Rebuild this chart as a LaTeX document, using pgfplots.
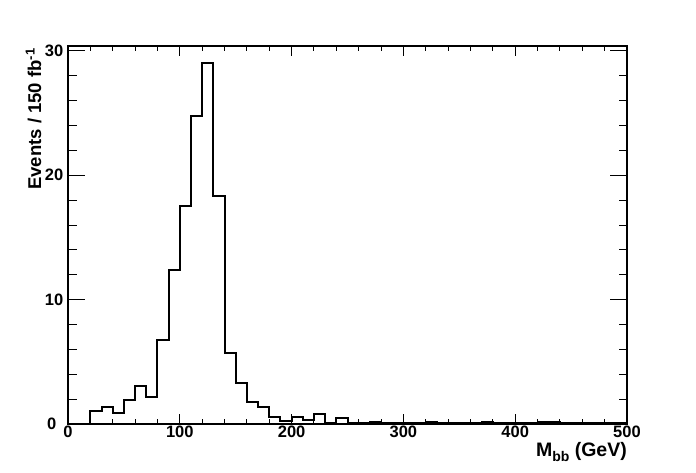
\documentclass[border=0pt]{standalone}
\usepackage{fontspec}
\setmainfont{Liberation Sans}
\usepackage{pgfplots}
\pgfplotsset{compat=1.18}
\pgfplotstableread{
x y
0 0
10 0
20 1.07
30 1.4
40 0.91
50 1.9
60 3.09
70 2.2
80 6.75
90 12.4
100 17.5
110 24.8
120 29.06
130 18.3
140 5.75
150 3.28
160 1.75
170 1.4
180 0.59
190 0.27
200 0.59
210 0.32
220 0.78
230 0.1
240 0.46
250 0.05
260 0.05
270 0.2
280 0.05
290 0.05
300 0.05
310 0.05
320 0.2
330 0.05
340 0.05
350 0.05
360 0.05
370 0.2
380 0.05
390 0.05
400 0.05
410 0.05
420 0.2
430 0.2
440 0.05
450 0.05
460 0.05
470 0.05
480 0.05
490 0.05
500 0.05
}\hist
\begin{document}
\begin{tikzpicture}
\useasboundingbox (-68pt,-48pt) rectangle (628pt,424pt);
\pgfplotsset{
  common/.style={
    at={(0pt,0pt)}, anchor=south west,
    scale only axis, width=559pt, height=378pt,
    xmin=0, xmax=500, ymin=0, ymax=30.4,
    axis line style={line width=2pt, black},
    tick style={line width=1pt, black},
    tick align=inside,
    /pgf/number format/assume math mode=true,
    ticklabel style={font=\fontsize{16.5}{16.5}\selectfont\bfseries},
  }
}
% x ticks and histogram
\begin{axis}[common,
  xtick={0,100,...,500},
  minor x tick num=4,
  ytick=\empty,
  major tick length=10.5pt, minor tick length=5.5pt,
  xticklabel style={inner sep=0pt, yshift=-1.5pt},
  xlabel={M\raisebox{-5pt}{\fontsize{14}{14}\selectfont bb} (GeV)},
  xlabel style={at={(rel axis cs:1,0)}, anchor=base east, inner sep=0pt,
    yshift=-32pt, xshift=0pt, font=\fontsize{19.5}{19.5}\selectfont\bfseries},
]
\addplot[const plot mark left, line width=2pt, black] table[x=x, y=y] {\hist};
\end{axis}
% y ticks
\begin{axis}[common,
  xtick=\empty,
  ytick={0,10,20,30},
  yticklabels={0\hspace*{7pt},10,20,30},
  minor y tick num=4,
  major tick length=17pt, minor tick length=8.5pt,
  yticklabel style={inner sep=0pt, xshift=-4.5pt},
]
\end{axis}
\node[rotate=90, anchor=base east, inner sep=0pt,
  font=\fontsize{18.5}{18.5}\selectfont\bfseries] at (-27pt,376pt)
  {Events / 150 fb\textsuperscript{-1}};
\end{tikzpicture}
\end{document}
